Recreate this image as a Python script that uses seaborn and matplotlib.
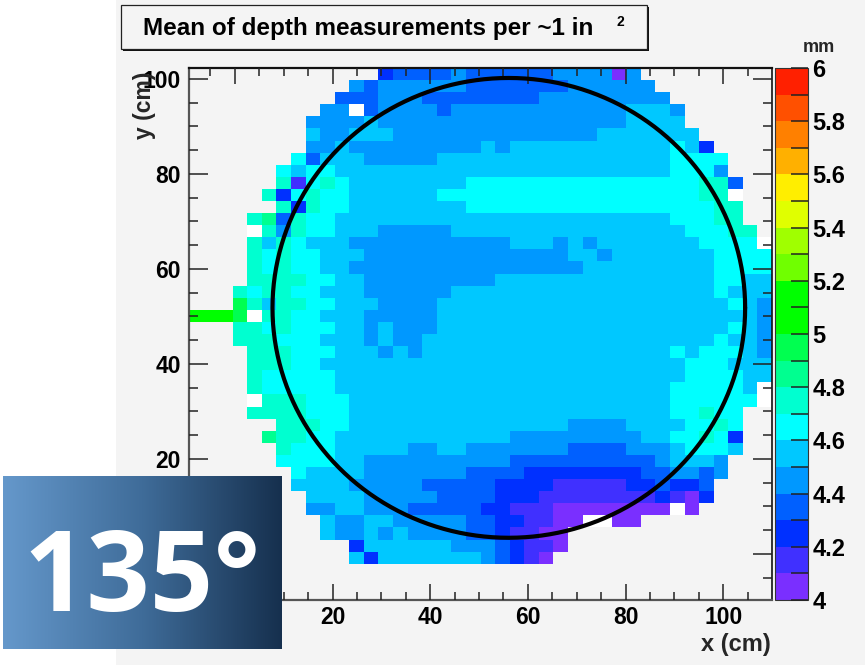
import numpy as np
import pandas as pd
import seaborn as sns
import matplotlib
matplotlib.use("Agg")
import matplotlib.pyplot as plt
from matplotlib.colors import ListedColormap, BoundaryNorm
from matplotlib.patches import Rectangle

# Run-length coded rows, top to bottom: letter = depth level, '.' = no data, 'w' = below range
rows_top = [
    "13. c 4d e d 5d 4e a e 9.",
    "11. e d 6e 7d 6e 8.",
    "10. 3d 3e 8d 9e 7.",
    "9. 2e w d 4e d 2e 10e 3f e 6.",
    "8. 4e f 7e 10e 4f 6.",
    "8. f 2e 3f 6e 8e 7f 5.",
    "8. 2e f 9e f e 11f g f c 4.",
    "7. g d 3f 5e 16f 4g 3.",
    "6. g f 2g 23f 3g e 3.",
    "6. h b g h g 8f 16g 2h d 2.",
    "5. h c g h 2g 6f 18g 2h w 2.",
    "6. h c h 2g 8f 17g 2h 2.",
    "4. h i d h 2g 23f 3g 2h 2.",
    "4. w h e h 2g 3f 5e 16f 3g 2h .",
    "4. h f h g 3f 9e 2e 3f e f e 7f 4g w",
]
rows_middle = [
    "4. h g h 2g 3f 8e 6e 2f e 7f 4g",
    "4. h g h 2g 2f 9e 7e 9f 4g",
    "4. 4h 2g 2f 8e e 15f 2g 2f",
    "3. h g 2h 2g 3f 6e 2f 16f g f 2f",
    "3. j h f 2h 2g 3f 4e 3f 17f g f e",
    "3k j w 2h 2g 3f 5e 3f 19f e",
    "3. 2h g h 2g g 2f e f 3e 3f 17f g f e",
    "3. 3h g 2g f 2f e f 2e 4f 16f g 2f e",
    "4. 3h 2g g 3f e f e 4f 13f g f 3g f e",
    "4. 3h 2g f 10f 14f 3g f 2f",
    "4. h 5g 10f 14f 4g 2f",
    "4. h 5g 10f 13f 5g f w",
    "4. w 3h 3g 9f 13f 6g w",
    "4. h 3h 3g 9f 13f 2g h 2g 2.",
]
rows_bottom = [
    "6. 2h h 2g 9f 6f 4e 4f 2g h g 2.",
    "5. i 2h 2g 10f 2f 9e 2f 2g h g c 2.",
    "6. h 3g 5f 2e 2f e 6e 4d 3e f 3g f 2.",
    "6. g 3g 2f 8e 2e 10d e f 2f e 3.",
    "7. g 4f 7e d 3d 8c 2d 2e d e 3.",
    "7. f 3f 5e 4d d 4c 5b 2c d 2c d 4.",
    "8. 4f 5e 3d d 3c 8b c b a c 4.",
    "8. 2e 2f 3e 5d 2c 3b 8a w a 5.",
    "9. f 2e 2f 5e d d 2c 2b 2a 2w 2a 9.",
    "9. f 2e f e f 4e d d c 2b 2a 14.",
    "11. c 6f 2e e d c 2b a 14.",
    "11. f c 7f e d c b a 15.",
    "40.", "40.", "40.",
]
level_values = {"a": 4.05, "b": 4.15, "c": 4.25, "d": 4.35, "e": 4.45, "f": 4.55, "g": 4.65,
                "h": 4.75, "i": 4.85, "j": 4.95, "k": 5.05, "w": 3.5, ".": np.nan}
level_colors = ["#7a2fff", "#4030ff", "#0030ff", "#0060ff", "#0098ff", "#00c8ff", "#00ffff",
                "#00ffd0", "#00ff90", "#00ff50", "#00ff00", "#00ff00", "#70ff00", "#a0ff00",
                "#e0ff00", "#ffee00", "#ffb000", "#ff8000", "#ff5000", "#ff2000"]
level_edges = [4.0, 4.1, 4.2, 4.3, 4.4, 4.5, 4.6, 4.7, 4.8, 4.9, 5.0, 5.1, 5.2, 5.3, 5.4, 5.5,
               5.6, 5.7, 5.8, 5.9, 6.0]
cbar_ticks = [4.0, 4.2, 4.4, 4.6, 4.8, 5.0, 5.2, 5.4, 5.6, 5.8, 6.0]
cbar_labels = ["4", "4.2", "4.4", "4.6", "4.8", "5", "5.2", "5.4", "5.6", "5.8", "6"]
x_major = [0, 20, 40, 60, 80, 100]
y_major = [0, 20, 40, 60, 80, 100]
x_major_labels = ["", "20", "40", "60", "80", "100"]
y_major_labels = ["", "20", "40", "60", "80", "100"]
x_minor = [-5, 5, 10, 15, 25, 30, 35, 45, 50, 55, 65, 70, 75, 85, 90, 95, 105]
y_minor = [-5, 5, 10, 15, 25, 30, 35, 45, 50, 55, 65, 70, 75, 85, 90, 95]
ring_center = (56.1, 51.8)
ring_radius = 48.4


def decode(row):
    out = []
    for tok in row.split():
        n = int(tok[:-1]) if len(tok) > 1 else 1
        out += [level_values[tok[-1]]] * n
    assert len(out) == 40, row
    return out


grid = pd.DataFrame([decode(r) for r in rows_top + rows_middle + rows_bottom])

W, H = 865, 665
X_LO, X_HI = -9.4, 110.0
Y_LO, Y_HI = -9.7, 102.3
BG = "#f4f4f4"
FONT = "Liberation Sans"

sns.set_theme(style="white")
plt.rcParams["font.family"] = FONT
plt.rcParams["font.weight"] = "bold"
fig = plt.figure(figsize=(W / 100, H / 100), dpi=100, facecolor="white")


def axes_px(l, t, r, b):
    return [l / W, 1 - b / H, (r - l) / W, (b - t) / H]


def fx(p):
    return p / W


def fy(p):
    return 1 - p / H


fig.add_artist(Rectangle((fx(116), 0), 1 - fx(116), 1, transform=fig.transFigure,
                         fc=BG, ec="none", zorder=-5))

ax = fig.add_axes(axes_px(189, 68, 772, 600))
cax = fig.add_axes(axes_px(775, 68, 808, 600))
ax.set_facecolor(BG)

cmap = ListedColormap(level_colors)
cmap.set_under("white")
norm = BoundaryNorm(level_edges, cmap.N)

sns.heatmap(grid, ax=ax, cbar_ax=cax, cmap=cmap, norm=norm, xticklabels=False, yticklabels=False,
            cbar_kws={"ticks": cbar_ticks, "spacing": "proportional"})


def xc(v):
    return (np.asarray(v, float) - X_LO) / (X_HI - X_LO) * grid.shape[1]


def yc(v):
    return (Y_HI - np.asarray(v, float)) / (Y_HI - Y_LO) * grid.shape[0]


ax.set_xlim(0, grid.shape[1])
ax.set_ylim(grid.shape[0], 0)
ax.set_xticks(xc(x_major))
ax.set_xticklabels(x_major_labels)
ax.set_yticks(yc(y_major))
ax.set_yticklabels(y_major_labels)
ax.set_xticks(xc(x_minor), minor=True)
ax.set_yticks(yc(y_minor), minor=True)
ax.set_axisbelow(False)
ax.tick_params(axis="x", which="major", direction="in", length=11.5, width=1.1, top=True, bottom=True,
               labelsize=16.5, pad=4, color="#222222", labelcolor="black")
ax.tick_params(axis="x", which="minor", direction="in", length=5.8, width=1.1, top=True, bottom=True,
               color="#222222")
ax.tick_params(axis="y", which="major", direction="in", length=13.7, width=1.1, left=True, right=True,
               labelsize=16.5, pad=6, color="#222222", labelcolor="black")
ax.tick_params(axis="y", which="minor", direction="in", length=6.5, width=1.1, left=True, right=True,
               color="#222222")
for name, color, lw in (("top", "#111111", 1.6), ("right", "#111111", 1.2),
                        ("left", "#555555", 1.6), ("bottom", "#555555", 1.6)):
    ax.spines[name].set_visible(True)
    ax.spines[name].set_color(color)
    ax.spines[name].set_linewidth(lw)

theta = np.linspace(0, 2 * np.pi, 361)
ax.plot(xc(ring_center[0] + ring_radius * np.cos(theta)), yc(ring_center[1] + ring_radius * np.sin(theta)),
        color="black", lw=3.0, zorder=5, clip_on=False)

cbar = ax.collections[0].colorbar
cbar.set_ticks(cbar_ticks)
cbar.set_ticklabels(cbar_labels)
cax.set_axisbelow(False)
cax.tick_params(axis="y", which="both", direction="in", right=True, left=False, length=12.5, width=1.1,
                labelsize=17, pad=3, color="#222222", labelcolor="black")
cbar.outline.set_visible(True)
cbar.outline.set_edgecolor("#333333")
cbar.outline.set_linewidth(0.8)

fig.text(fx(771), fy(645), "x (cm)", ha="right", va="center", fontsize=17)
fig.text(fx(145), fy(105), "y (cm)", ha="center", va="center", rotation=90, fontsize=16.5)
fig.text(fx(819), fy(47), "mm", ha="center", va="center", fontsize=13)

# title box with ROOT-style drop shadow
fig.add_artist(Rectangle((fx(123), fy(50.5)), (647 - 121) / W, 44 / H, transform=fig.transFigure,
                         fc="#111111", ec="none", zorder=3))
fig.add_artist(Rectangle((fx(121), fy(49)), (647 - 121) / W, 44 / H, transform=fig.transFigure,
                         fc=BG, ec="#222222", lw=0.9, zorder=3.1))
fig.text(fx(143), fy(29), "Mean of depth measurements per ~1 in", ha="left", va="center",
         fontsize=17.5, zorder=4, color="black")
fig.text(fx(620), fy(22), "2", ha="center", va="center", fontsize=10, zorder=4, color="black")

# angle badge
badge = fig.add_axes(axes_px(3, 476, 282, 649))
badge.axis("off")
badge.imshow(np.linspace(0, 1, 256)[None, :], aspect="auto", extent=(0, 1, 0, 1),
             cmap=matplotlib.colors.LinearSegmentedColormap.from_list("badge", ["#6598cb", "#3f6c99", "#16304e"]))
badge.text(0.5, 0.385, "135°", color="white", ha="center", va="center", fontsize=80,
           fontweight="bold", family="Open Sans", transform=badge.transAxes)

fig.savefig("out.png", dpi=100, facecolor="white")
